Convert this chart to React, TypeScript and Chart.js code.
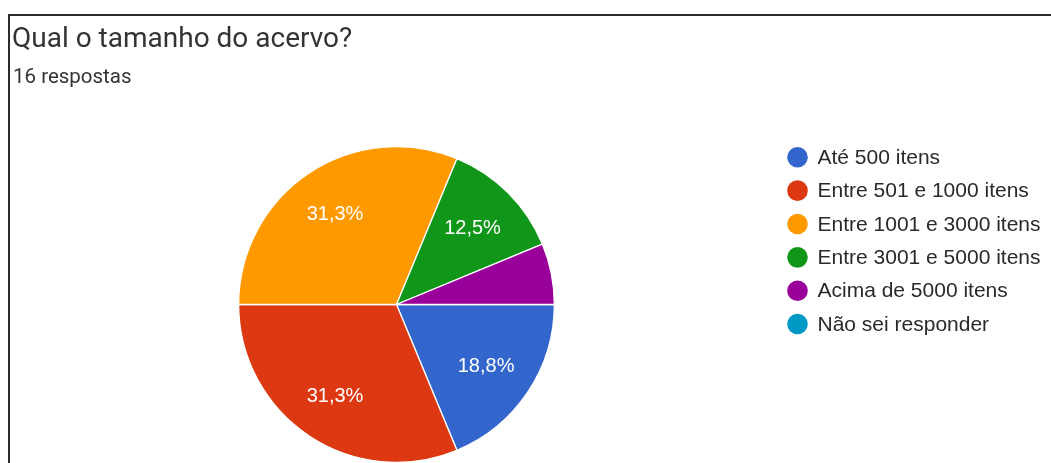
import React, { useEffect, useRef } from "react";
import { Chart, registerables } from "chart.js";

Chart.register(...registerables);

const TITLE = "Qual o tamanho do acervo?";
const SUBTITLE = "16 respostas";
const categories = [
  "Até 500 itens",
  "Entre 501 e 1000 itens",
  "Entre 1001 e 3000 itens",
  "Entre 3001 e 5000 itens",
  "Acima de 5000 itens",
  "Não sei responder",
];
const responses = [3, 5, 5, 2, 1, 0];
const colors = ["#3366cc", "#dc3912", "#ff9900", "#109618", "#990099", "#0099c6"];

const sliceLabels = {
  id: "sliceLabels",
  afterDatasetsDraw(chart: any) {
    const ctx = chart.ctx;
    const data = chart.data.datasets[0].data as number[];
    const total = data.reduce((a, b) => a + b, 0);
    const meta = chart.getDatasetMeta(0);
    ctx.save();
    ctx.fillStyle = "#ffffff";
    ctx.font = "20px 'Liberation Sans', Arial, sans-serif";
    ctx.textAlign = "center";
    ctx.textBaseline = "middle";
    meta.data.forEach((arc: any, i: number) => {
      const frac = data[i] / total;
      if (frac < 0.1) return;
      const mid = (arc.startAngle + arc.endAngle) / 2;
      const r = arc.outerRadius * 0.69;
      const x = arc.x + Math.cos(mid) * r;
      const y = arc.y + Math.sin(mid) * r;
      const txt = (frac * 100).toFixed(1).replace(".", ",") + "%";
      ctx.fillText(txt, x - 1, y + 1);
    });
    ctx.restore();
  },
};

const sideLegend = {
  id: "sideLegend",
  afterDraw(chart: any) {
    const ctx = chart.ctx;
    const labels = chart.data.labels as string[];
    const bg = chart.data.datasets[0].backgroundColor as string[];
    ctx.save();
    ctx.font = "21px 'Liberation Sans', Arial, sans-serif";
    ctx.textBaseline = "middle";
    ctx.textAlign = "left";
    labels.forEach((lab, i) => {
      const cy = 157.3 + i * 33.35;
      ctx.beginPath();
      ctx.fillStyle = bg[i];
      ctx.arc(797.5, cy, 10.3, 0, Math.PI * 2);
      ctx.fill();
      ctx.fillStyle = "#2a2a2a";
      ctx.fillText(lab, 817.5, cy + 1);
    });
    ctx.restore();
  },
};

export default function App() {
  const ref = useRef<HTMLCanvasElement>(null);
  useEffect(() => {
    if (!ref.current) return;
    const chart = new Chart(ref.current, {
      type: "pie",
      data: {
        labels: categories,
        datasets: [
          {
            data: responses,
            backgroundColor: colors,
            borderColor: "#ffffff",
            borderWidth: 1.3,
          },
        ],
      },
      options: {
        animation: false,
        responsive: false,
        rotation: 90,
        layout: { padding: { left: 238, right: 496, top: 146, bottom: 0 } },
        plugins: {
          legend: { display: false },
          tooltip: { enabled: false },
          title: { display: false },
        },
      },
      plugins: [sliceLabels, sideLegend],
    });
    return () => chart.destroy();
  }, []);

  return (
    <div style={{ position: "fixed", left: 0, top: 0, width: 1051, height: 463, background: "#fff", overflow: "hidden" }}>
      <canvas ref={ref} width={1051} height={463} style={{ position: "absolute", left: 0, top: 0 }} />
      <div
        style={{
          position: "absolute",
          left: 8,
          top: 14,
          width: 1051,
          height: 463,
          borderTop: "2px solid #2a2a2a",
          borderLeft: "2px solid #2a2a2a",
          boxSizing: "border-box",
          pointerEvents: "none",
        }}
      />
      <div
        style={{
          position: "absolute",
          left: 12,
          top: 24,
          fontFamily: "Roboto, sans-serif",
          fontSize: 28,
          lineHeight: "28px",
          color: "#333333",
          whiteSpace: "nowrap",
        }}
      >
        {TITLE}
      </div>
      <div
        style={{
          position: "absolute",
          left: 13,
          top: 66,
          fontFamily: "Roboto, sans-serif",
          fontSize: 20.5,
          lineHeight: "20.5px",
          color: "#333333",
          whiteSpace: "nowrap",
        }}
      >
        {SUBTITLE}
      </div>
    </div>
  );
}
